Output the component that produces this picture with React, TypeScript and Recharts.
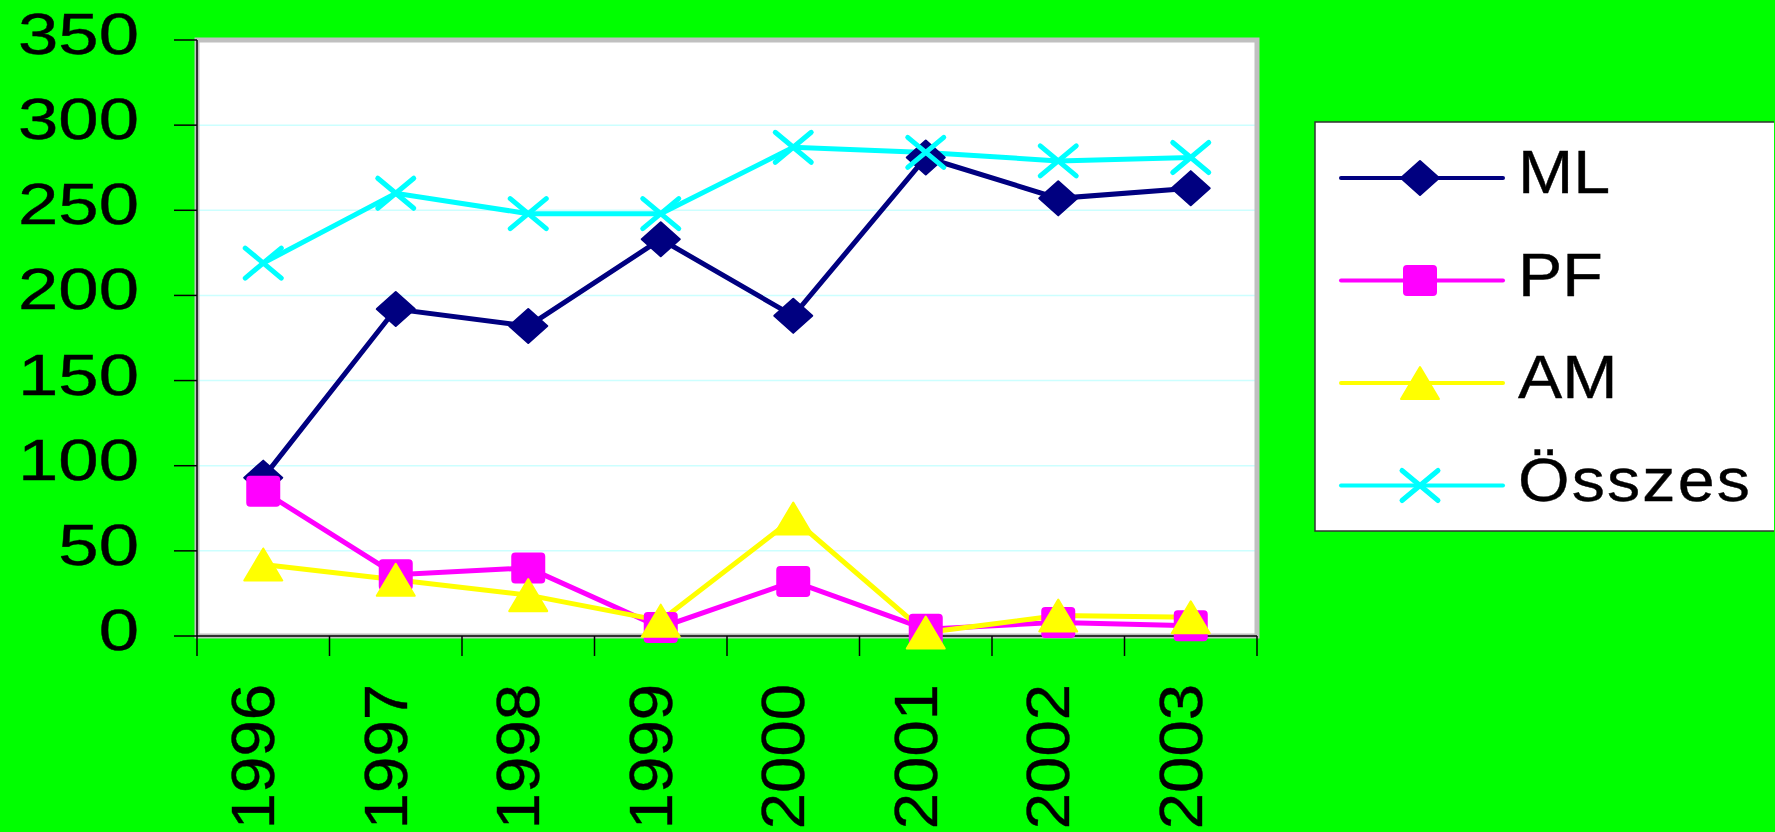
import React from "react";
import {
  LineChart,
  Line,
  XAxis,
  YAxis,
  CartesianGrid,
  ReferenceArea
} from "recharts";

const years = ["1996", "1997", "1998", "1999", "2000", "2001", "2002", "2003"];
const ml = [93, 192, 182, 233, 188, 281, 257, 263];
const pf = [85, 36, 40, 5, 32, 4, 8, 6];
const am = [42, 33, 24, 9, 69, 2, 12, 11];
const osszes = [219, 260, 248, 248, 287, 284, 279, 281];
const yTicks = [0, 50, 100, 150, 200, 250, 300, 350];

type Shape = "diamond" | "square" | "triangle" | "cross";

const series: { key: string; name: string; color: string; shape: Shape }[] = [
  { key: "ml", name: "ML", color: "#000080", shape: "diamond" },
  { key: "pf", name: "PF", color: "#FF00FF", shape: "square" },
  { key: "am", name: "AM", color: "#FFFF00", shape: "triangle" },
  { key: "osszes", name: "Összes", color: "#00FFFF", shape: "cross" }
];

const data = years.map((year, i) => ({
  year,
  ml: ml[i],
  pf: pf[i],
  am: am[i],
  osszes: osszes[i]
}));

const FONT = "'Liberation Sans', Arial, sans-serif";
const PLOT_BOTTOM = 636;
const BAND = 132.5;

const Marker = ({ shape, cx, cy, color }: { shape: Shape; cx: number; cy: number; color: string }) => {
  switch (shape) {
    case "diamond":
      return (
        <polygon
          points={`${cx},${cy - 17} ${cx + 19},${cy} ${cx},${cy + 17} ${cx - 19},${cy}`}
          fill={color}
          stroke={color}
          strokeWidth={2}
          strokeLinejoin="round"
        />
      );
    case "square":
      return <rect x={cx - 16} y={cy - 14.5} width={32} height={29} rx={3} fill={color} stroke={color} strokeWidth={2} />;
    case "triangle":
      return (
        <polygon
          points={`${cx},${cy - 16} ${cx + 19},${cy + 16} ${cx - 19},${cy + 16}`}
          fill={color}
          stroke={color}
          strokeWidth={2}
          strokeLinejoin="round"
        />
      );
    case "cross":
      return (
        <g stroke={color} strokeWidth={5} strokeLinecap="round">
          <line x1={cx - 18} y1={cy - 15} x2={cx + 18} y2={cy + 15} />
          <line x1={cx - 18} y1={cy + 15} x2={cx + 18} y2={cy - 15} />
        </g>
      );
  }
};

const YTick = (props: any) => {
  const { x, y, payload } = props;
  return (
    <text
      x={0}
      y={0}
      transform={`translate(${x},${y + 14}) scale(1.25,1)`}
      textAnchor="end"
      fontSize={58}
      fontFamily={FONT}
      fill="#000"
      stroke="#000"
      strokeWidth={0.4}
    >
      {payload.value}
    </text>
  );
};

const XTick = (props: any) => {
  const { x, payload } = props;
  const idx = payload.index;
  return (
    <g>
      <line x1={x - BAND / 2} y1={PLOT_BOTTOM} x2={x - BAND / 2} y2={PLOT_BOTTOM + 20} stroke="#000" strokeWidth={1.5} />
      {idx === years.length - 1 && (
        <line x1={x + BAND / 2} y1={PLOT_BOTTOM} x2={x + BAND / 2} y2={PLOT_BOTTOM + 20} stroke="#000" strokeWidth={1.5} />
      )}
      <text
        x={0}
        y={0}
        transform={`translate(${x + 11},${PLOT_BOTTOM + 48}) rotate(-90) scale(1.07,1)`}
        textAnchor="end"
        fontSize={61}
        fontFamily={FONT}
        fill="#000"
        stroke="#000"
        strokeWidth={0.4}
      >
        {payload.value}
      </text>
    </g>
  );
};

const ChartLegend = () => (
  <svg
    width={460}
    height={411}
    style={{ position: "absolute", left: 1314, top: 121 }}
  >
    <rect x={1} y={1} width={470} height={409} fill="#fff" stroke="#333" strokeWidth={1.5} />
    {series.map((s, i) => {
      const cy = 57 + i * 102.5;
      return (
        <g key={s.key}>
          <line x1={27} y1={cy} x2={189} y2={cy} stroke={s.color} strokeWidth={4} strokeLinecap="round" />
          <Marker shape={s.shape} cx={106} cy={cy} color={s.color} />
          <text
            x={0}
            y={0}
            transform={`translate(204,${cy + 15}) scale(1.07,1)`}
            fontSize={62}
            fontFamily={FONT}
            letterSpacing={s.key === "osszes" ? 2 : 0}
            fill="#000"
            stroke="#000"
            strokeWidth={0.4}
          >
            {s.name}
          </text>
        </g>
      );
    })}
  </svg>
);

export default function App() {
  return (
    <div
      style={{
        position: "absolute",
        left: 0,
        top: 0,
        width: 1775,
        height: 832,
        background: "#00FF00",
        overflow: "hidden"
      }}
    >
      <LineChart
        width={1775}
        height={832}
        data={data}
        margin={{ top: 40, right: 518, bottom: 0, left: 0 }}
      >
        <CartesianGrid
          horizontal
          vertical={false}
          stroke="#ccffff"
          strokeWidth={1.5}
          fill="#ffffff"
          fillOpacity={1}
        />
        <XAxis xAxisId="frame" type="number" domain={[0, 1]} allowDataOverflow hide />
        <ReferenceArea
          xAxisId="frame"
          y1={0}
          y2={350}
          fill="none"
          stroke="#c0c0c0"
          strokeWidth={5}
          ifOverflow="visible"
        />
        <XAxis
          dataKey="year"
          height={196}
          padding={{ left: BAND / 2, right: BAND / 2 }}
          interval={0}
          tickLine={false}
          axisLine={{ stroke: "#000", strokeWidth: 1.5 }}
          tick={<XTick />}
        />
        <YAxis
          width={197}
          domain={[0, 350]}
          ticks={yTicks}
          interval={0}
          tickSize={23}
          tickMargin={35}
          tickLine={{ stroke: "#000", strokeWidth: 1.5 }}
          axisLine={{ stroke: "#000", strokeWidth: 1.5 }}
          tick={<YTick />}
        />
        {series.map((s) => (
          <Line
            key={s.key}
            dataKey={s.key}
            name={s.name}
            type="linear"
            stroke={s.color}
            strokeWidth={5}
            isAnimationActive={false}
            dot={(p: any) => (
              <Marker key={`${s.key}-${p.index}`} shape={s.shape} cx={p.cx} cy={p.cy} color={s.color} />
            )}
            activeDot={false}
          />
        ))}
      </LineChart>
      <ChartLegend />
    </div>
  );
}
